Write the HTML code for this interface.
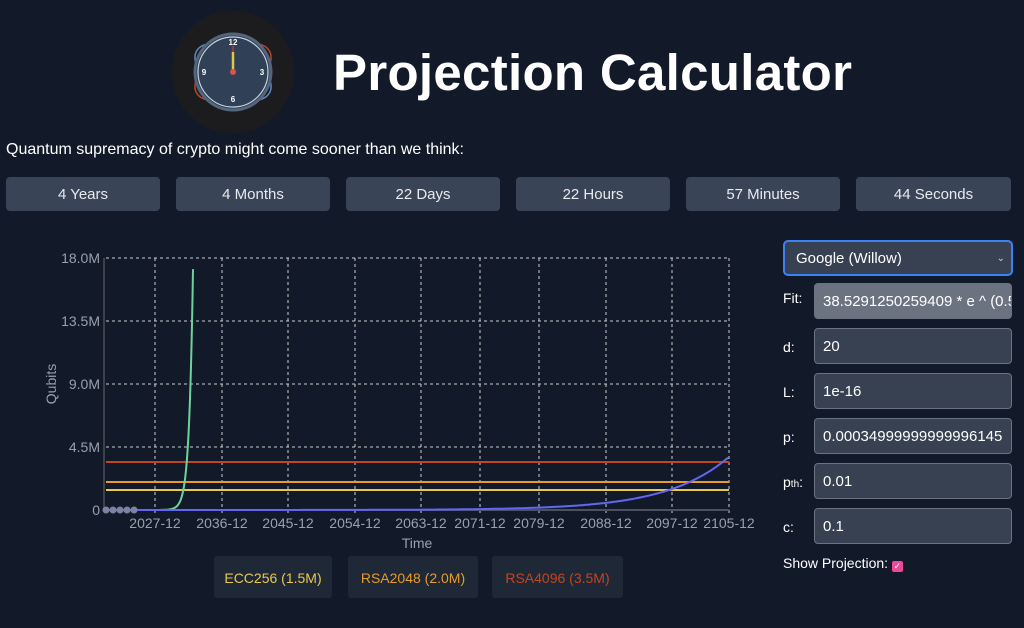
<!DOCTYPE html>
<html><head><meta charset="utf-8"><style>
body{margin:0;width:1024px;height:628px;background:#121a2a;font-family:"Liberation Sans",sans-serif;color:#fff;overflow:hidden;position:relative}
.btn{position:absolute;top:177px;height:34px;background:#3a4457;border-radius:4px;color:#e8eaee;font-size:15px;text-align:center;line-height:36px}
.lbl{position:absolute;left:783px;font-size:14px;color:#fff}
.inp{position:absolute;left:814px;width:198px;height:36px;background:#374151;border:1px solid #6b7280;border-radius:4px;box-sizing:border-box;color:#fff;font-size:15px;line-height:36px;padding-left:8px;white-space:nowrap;overflow:hidden}
.leg{position:absolute;top:556px;height:42px;background:#1f2837;border-radius:3px;font-size:14px;text-align:center;line-height:44px}
</style></head><body>
<svg style="position:absolute;left:0;top:0" width="1024" height="628">
<circle cx="233" cy="72" r="61" fill="#1c1c1e"/>
<ellipse cx="233" cy="72" rx="42" ry="22" fill="none" stroke="#5b8bc0" stroke-width="1.5" transform="rotate(30 233 72)"/>
<ellipse cx="233" cy="72" rx="42" ry="22" fill="none" stroke="#b6452c" stroke-width="1.5" transform="rotate(-30 233 72)"/>
<circle cx="233" cy="72" r="38" fill="#2f4057" stroke="#52657c" stroke-width="3"/>
<circle cx="233" cy="72" r="35" fill="none" stroke="#c8d2dc" stroke-width="1.2"/>
<g fill="#fff" font-size="8" font-weight="bold" text-anchor="middle"><text x="233" y="45">12</text><text x="262" y="75">3</text><text x="233" y="102">6</text><text x="204" y="75">9</text></g>
<line x1="233" y1="46" x2="233" y2="72" stroke="#b33" stroke-width="1.5"/>
<line x1="233" y1="52" x2="233" y2="72" stroke="#e6c640" stroke-width="2.5"/>
<circle cx="233" cy="72" r="3" fill="#d9534f"/>
<g stroke="#ccc" stroke-dasharray="3,3" stroke-width="1">
<line x1="106" y1="258" x2="729" y2="258"/><line x1="106" y1="321" x2="729" y2="321"/><line x1="106" y1="384" x2="729" y2="384"/><line x1="106" y1="447" x2="729" y2="447"/>
<line x1="155" y1="258" x2="155" y2="516"/><line x1="222" y1="258" x2="222" y2="516"/><line x1="288" y1="258" x2="288" y2="516"/><line x1="355" y1="258" x2="355" y2="516"/><line x1="421" y1="258" x2="421" y2="516"/><line x1="480" y1="258" x2="480" y2="516"/><line x1="539" y1="258" x2="539" y2="516"/><line x1="606" y1="258" x2="606" y2="516"/><line x1="672" y1="258" x2="672" y2="516"/><line x1="729" y1="258" x2="729" y2="516"/>
</g>
<line x1="104" y1="258" x2="104" y2="510" stroke="#666"/>
<line x1="104" y1="510" x2="729" y2="510" stroke="#4b5160" stroke-width="2"/>
<g fill="#9aa0aa" font-size="14" text-anchor="end"><text x="100" y="263">18.0M</text><text x="100" y="326">13.5M</text><text x="100" y="389">9.0M</text><text x="100" y="452">4.5M</text><text x="100" y="515">0</text></g>
<g fill="#9aa0aa" font-size="14" text-anchor="middle"><text x="155" y="528">2027-12</text><text x="222" y="528">2036-12</text><text x="288" y="528">2045-12</text><text x="355" y="528">2054-12</text><text x="421" y="528">2063-12</text><text x="480" y="528">2071-12</text><text x="539" y="528">2079-12</text><text x="606" y="528">2088-12</text><text x="672" y="528">2097-12</text><text x="729" y="528">2105-12</text>
<text x="417" y="548">Time</text><text x="56" y="384" transform="rotate(-90 56 384)">Qubits</text></g>
<line x1="106" y1="462" x2="729" y2="462" stroke="#c2451f" stroke-width="2"/>
<line x1="106" y1="482" x2="729" y2="482" stroke="#e89a2a" stroke-width="2"/>
<line x1="106" y1="490" x2="729" y2="490" stroke="#e8c84a" stroke-width="2"/>
<path id="g" fill="none" stroke="#6ed39a" stroke-width="2"/>
<path id="b" fill="none" stroke="#6366f1" stroke-width="2"/>
<g fill="#7c82a0"><circle cx="106" cy="510" r="3.5"/><circle cx="113" cy="510" r="3.5"/><circle cx="120" cy="510" r="3.5"/><circle cx="127" cy="510" r="3.5"/><circle cx="134" cy="510" r="3.5"/></g>
</svg>
<script>
var s="M150,510",x;for(x=150;x<=193;x+=0.5){s+=" L"+x+","+(510-17.2*14*Math.exp(-0.257*(193-x))).toFixed(1);}document.getElementById('g').setAttribute('d',s);
s="M106,510";for(x=106;x<=729;x+=2){s+=" L"+x+","+(510-3.8*14*Math.exp(-0.0163*(729-x))).toFixed(1);}document.getElementById('b').setAttribute('d',s);
</script>
<div style="position:absolute;left:333px;top:41px;font-size:51px;font-weight:bold;line-height:64px;letter-spacing:0.3px">Projection Calculator</div>
<div style="position:absolute;left:6px;top:141px;font-size:16px">Quantum supremacy of crypto might come sooner than we think:</div>
<div class="btn" style="left:6px;width:154px">4 Years</div>
<div class="btn" style="left:176px;width:154px">4 Months</div>
<div class="btn" style="left:346px;width:154px">22 Days</div>
<div class="btn" style="left:516px;width:154px">22 Hours</div>
<div class="btn" style="left:686px;width:154px">57 Minutes</div>
<div class="btn" style="left:856px;width:155px">44 Seconds</div>
<div class="leg" style="left:214px;width:118px;color:#e8c84a">ECC256 (1.5M)</div>
<div class="leg" style="left:348px;width:130px;color:#e89a2a">RSA2048 (2.0M)</div>
<div class="leg" style="left:492px;width:131px;color:#c2451f">RSA4096 (3.5M)</div>
<div style="position:absolute;left:783px;top:240px;width:230px;height:36px;box-sizing:border-box;border:2px solid #3b82f6;border-radius:5px;background:#374151;font-size:15px;line-height:34px;padding-left:11px">Google (Willow)<span style="position:absolute;right:6px;font-size:10px;color:#ccc">&#8964;</span></div>
<div class="lbl" style="top:290px">Fit:</div><div class="inp" style="top:283px;background:#6b7280">38.5291250259409 * e ^ (0.5</div>
<div class="lbl" style="top:339px">d:</div><div class="inp" style="top:328px">20</div>
<div class="lbl" style="top:384px">L:</div><div class="inp" style="top:373px">1e-16</div>
<div class="lbl" style="top:429px">p:</div><div class="inp" style="top:418px">0.00034999999999996145</div>
<div class="lbl" style="top:474px">p<span style="font-size:10px">th</span>:</div><div class="inp" style="top:463px">0.01</div>
<div class="lbl" style="top:519px">c:</div><div class="inp" style="top:508px">0.1</div>
<div class="lbl" style="top:555px">Show Projection: <span style="display:inline-block;width:11px;height:11px;background:#ec4899;border-radius:2px;color:#fff;font-size:9px;line-height:11px;text-align:center;vertical-align:-1px">&#10003;</span></div>
</body></html>
